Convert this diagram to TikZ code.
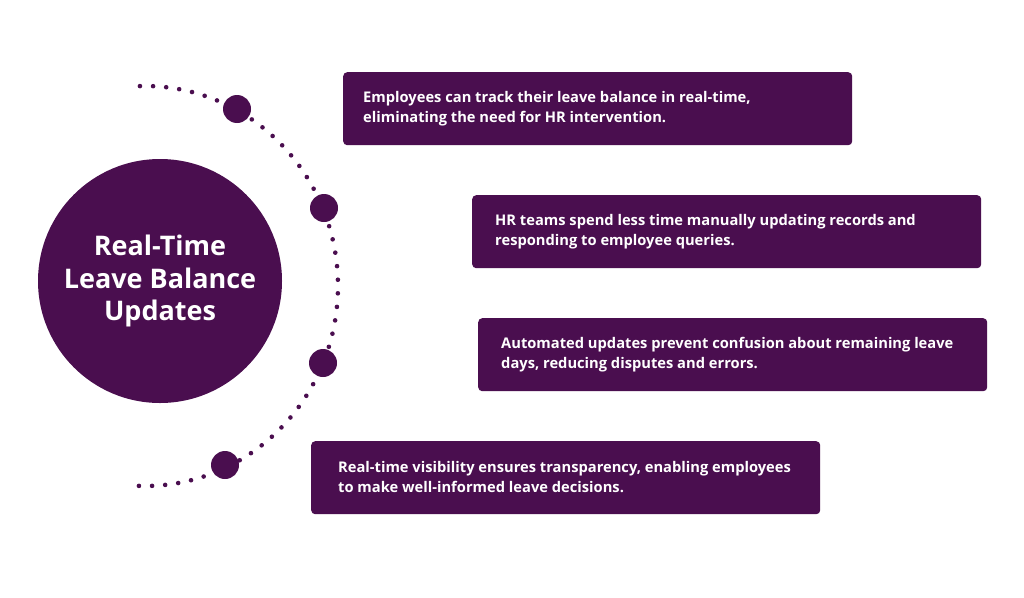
\documentclass[tikz,border=0pt]{standalone}
\usepackage{fontspec}
\setmainfont{Open Sans}[BoldFont={* Bold}]
\definecolor{plum}{HTML}{4A0E4F}
\begin{document}
\begin{tikzpicture}[x=1pt,y=-1pt,
  boxstyle/.style={fill=plum,rounded corners=4pt,minimum width=509pt,minimum height=73pt,anchor=north west,inner sep=0pt},
  txtstyle/.style={text=white,font=\bfseries\fontsize{14.7}{20}\selectfont,align=left,anchor=west,inner sep=0pt},
  bigdot/.style={circle,fill=plum,minimum size=28pt,inner sep=0pt},
  smalldot/.style={fill=plum}]
\useasboundingbox[fill=white] (0,0) rectangle (1024,597);
% dotted arc
\foreach \t in {91.5,87.6,...,-92} {
  \fill[smalldot] ({145+193*cos(\t)},{286-200*sin(\t)}) circle (2.3pt);
}
\node[circle,fill=plum,minimum size=244pt,inner sep=0pt,text=white,align=center,
  font=\bfseries\fontsize{27}{32.5}\selectfont] (main) at (160,281) {Real-Time\\Leave Balance\\Updates};
\node[bigdot] (d1) at (237,109) {};
\node[bigdot] (d2) at (324,208) {};
\node[bigdot] (d3) at (323,363) {};
\node[bigdot] (d4) at (225,465) {};
\node[boxstyle] (b1) at (343,72) {};
\node[boxstyle] (b2) at (472,195) {};
\node[boxstyle] (b3) at (478,318) {};
\node[boxstyle] (b4) at (311,441) {};
\node[txtstyle] (t1) at (363,108.5) {Employees can track their leave balance in real-time,\\eliminating the need for HR intervention.};
\node[txtstyle] (t2) at (495,231.5) {HR teams spend less time manually updating records and\\responding to employee queries.};
\node[txtstyle] (t3) at (501,354.5) {Automated updates prevent confusion about remaining leave\\days, reducing disputes and errors.};
\node[txtstyle] (t4) at (338,477.5) {Real-time visibility ensures transparency, enabling employees\\to make well-informed leave decisions.};
\end{tikzpicture}
\end{document}
